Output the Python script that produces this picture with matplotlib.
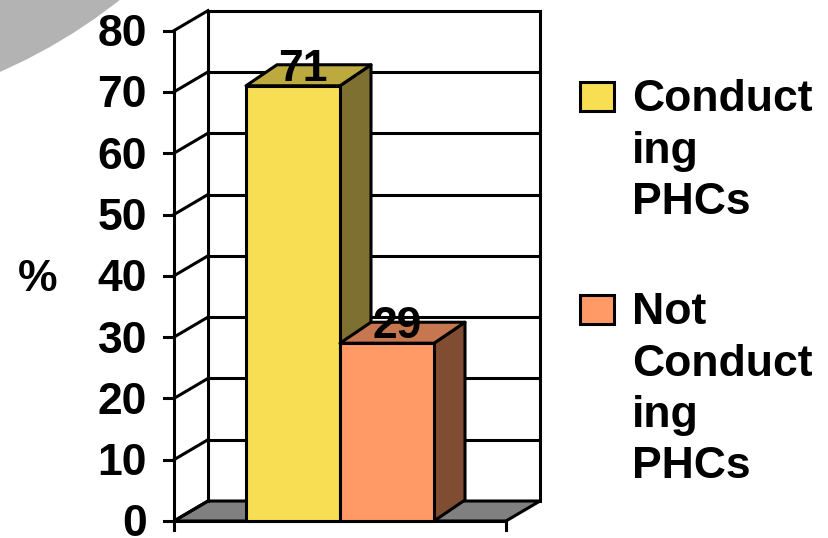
import matplotlib
matplotlib.use("Agg")
import matplotlib.pyplot as plt
from matplotlib.patches import Polygon, Rectangle, Circle

# ---- data ----
categories = ["Conducting PHCs", "Not Conducting PHCs"]
values = [71, 29]
legend_lines = [["Conduct", "ing", "PHCs"], ["Not", "Conduct", "ing", "PHCs"]]
yticks = [0, 10, 20, 30, 40, 50, 60, 70, 80]
ylabel = "%"

front_colors = ["#F8DE52", "#FF9966"]
top_colors = ["#BCAA3E", "#C7774F"]
side_colors = ["#7E7030", "#804D33"]

# ---- layout (pixels) ----
W, H = 829, 538
PX_PER_UNIT = 6.13
Y0_PX = 521  # pixel row (from top) of value 0 on front plane
FONT = "Liberation Sans"
FS = 32

fig = plt.figure(figsize=(W / 100, H / 100), dpi=100)

# background axes in pixel coordinates
bg = fig.add_axes([0, 0, 1, 1])
bg.set_xlim(0, W)
bg.set_ylim(H, 0)
bg.axis("off")
bg.add_patch(Circle((-220, -430), 548, color="#B3B3B3", lw=0))

# main axes: x in pixels, y in value units
ax = fig.add_axes([0, 0, 1, 1])
ax.patch.set_alpha(0)
ax.set_xlim(0, W)
v_bot = -(H - Y0_PX) / PX_PER_UNIT
v_top = Y0_PX / PX_PER_UNIT
ax.set_ylim(v_bot, v_top)
ax.axis("off")

def u(px):
    return px / PX_PER_UNIT

X0, X1 = 174, 506
DX, DY = 34, u(20)
LW = 2.2
vmax = yticks[-1]

# floor
ax.add_patch(Polygon([(X0, 0), (X1, 0), (X1 + DX, DY), (X0 + DX, DY)],
                     closed=True, facecolor="#808080", edgecolor="black", lw=LW, zorder=1))
# back wall gridlines
for t in yticks[1:]:
    ax.plot([X0 + DX, X1 + DX], [t + DY, t + DY], color="black", lw=LW, zorder=1,
            solid_capstyle="projecting")
# back wall verticals
ax.plot([X0 + DX, X0 + DX], [DY, vmax + DY], color="black", lw=LW, zorder=1)
ax.plot([X1 + DX, X1 + DX], [DY, vmax + DY], color="black", lw=LW, zorder=1)
# side wall diagonals
for t in yticks:
    ax.plot([X0, X0 + DX], [t, t + DY], color="black", lw=LW, zorder=1)
# front axis and ticks
ax.plot([X0, X0], [u(-9), vmax], color="black", lw=LW, zorder=2)
for t in yticks:
    ax.plot([X0 - 10, X0], [t, t], color="black", lw=LW, zorder=2)
    ax.text(147, t - u(15.5), str(t), ha="right", va="baseline",
            fontsize=FS, fontweight="bold", family=FONT, zorder=5)
ax.plot([X0, X1], [0, 0], color="black", lw=LW, zorder=2)
ax.plot([X1, X1], [u(-9), 0], color="black", lw=LW, zorder=2)

ax.text(38, 40 - u(15.5), ylabel, ha="center", va="baseline",
        fontsize=FS, fontweight="bold", family=FONT)

# bars
BAR_LEFT0, BAR_W = 246, 94
BDX, BDY = 31, u(21)
for i, v in enumerate(values):
    xl = BAR_LEFT0 + i * BAR_W
    xr = xl + BAR_W
    z = 3 + i
    ax.add_patch(Polygon([(xr, 0), (xr + BDX, BDY), (xr + BDX, v + BDY), (xr, v)],
                         closed=True, facecolor=side_colors[i], edgecolor="black",
                         lw=LW, zorder=z, joinstyle="round"))
    ax.add_patch(Polygon([(xl, v), (xr, v), (xr + BDX, v + BDY), (xl + BDX, v + BDY)],
                         closed=True, facecolor=top_colors[i], edgecolor="black",
                         lw=LW, zorder=z, joinstyle="round"))
    ax.add_patch(Rectangle((xl, 0), BAR_W, v, facecolor=front_colors[i],
                           edgecolor="black", lw=LW, zorder=z, joinstyle="round"))
    ax.text((xl + xr) / 2 + 10, v + BDY - u(16), str(v), ha="center", va="baseline",
            fontsize=FS, fontweight="bold", family=FONT, zorder=10)

# legend (pixel coords, y down)
entry_tops = [82, 295]
LINE_SP = 51.5
for i, lines in enumerate(legend_lines):
    top = entry_tops[i]
    bg.add_patch(Rectangle((580, top), 34, 29, facecolor=front_colors[i],
                           edgecolor="black", lw=2.2, zorder=3))
    for j, line in enumerate(lines):
        bg.text(632, top + 29 + j * LINE_SP, line, ha="left", va="baseline",
                fontsize=FS, fontweight="bold", family=FONT, zorder=3)

fig.savefig("out.png", dpi=100)
